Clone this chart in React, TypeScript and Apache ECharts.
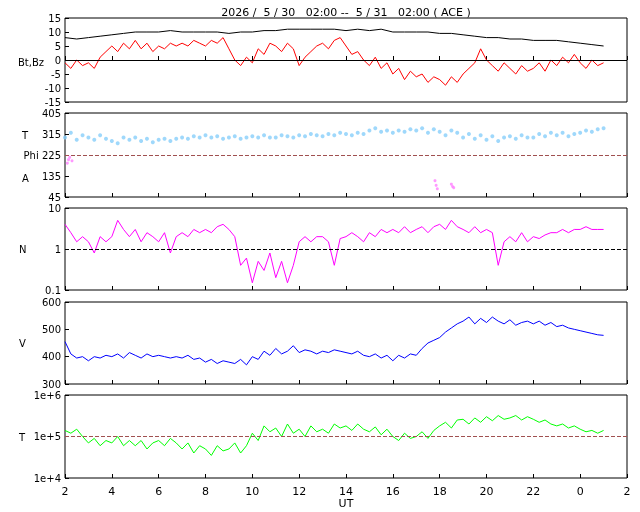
import { useEffect, useRef } from 'react';
import * as echarts from 'echarts';

// hours from 2 (05/30 02:00) to 25 (05/31 01:00)
const START = 2;
const STEP = 0.25;

const bz = [
  -1, -3, 0, -2, -1, -3, 1, 3, 5, 3, 6, 4, 7, 4, 6, 3, 5, 4, 6, 5, 6, 5, 7, 6,
  5, 7, 6, 8, 4, 0, -2, 1, -1, 4, 2, 6, 5, 3, 6, 4, -2, 1, 3, 5, 6, 4, 7, 8,
  5, 2, 3, 0, -2, 1, -3, -1, -5, -3, -7, -4, -6, -5, -8, -6, -7, -9, -6, -8,
  -5, -3, -1, 4, 0, -2, -4, -1, -3, -5, -2, -4, -3, -1, -4, 0, -2, 1, -1, 2,
  -1, -3, 0, -2, -1,
];
const bt = [
  8, 7.5, 8, 8.5, 9, 9.5, 10, 10, 10, 10.5, 10, 10, 10, 10, 9.5, 10, 10, 10.5,
  10.5, 11, 11, 11, 11, 11, 10.5, 11, 10.5, 11, 10, 10, 10, 10, 9.5, 9.5, 9,
  8.5, 8, 8, 7.5, 7.5, 7, 7, 7, 6.5, 6, 5.5, 5,
];
const temp = [
  300, 320, 290, 310, 300, 290, 310, 295, 285, 275, 300, 290, 300, 285, 295, 280,
  290, 295, 285, 295, 300, 295, 305, 300, 310, 300, 305, 295, 300, 305, 295, 300,
  305, 300, 310, 300, 300, 310, 305, 300, 310, 305, 315, 310, 305, 315, 310, 320,
  315, 310, 320, 315, 330, 340, 325, 330, 320, 330, 325, 335, 330, 340, 320, 335,
  325, 310, 330, 320, 300, 315, 295, 310, 290, 305, 285, 300, 305, 295, 310, 300,
  300, 315, 305, 320, 310, 320, 305, 315, 320, 330, 325, 335, 340,
];
const phi = [
  [2.1, 190], [2.15, 205], [2.2, 215], [2.3, 200], [17.8, 115], [17.85, 95],
  [17.9, 80], [18.5, 100], [18.55, 90], [18.6, 85],
];
const dens = [
  4, 2.5, 1.5, 2, 1.5, 0.8, 2, 1.5, 2, 5, 3, 2, 3, 1.5, 2.5, 2, 1.5, 2.5, 0.8, 2,
  2.5, 2, 3, 2.5, 3, 2.5, 3.5, 4, 3, 2, 0.4, 0.6, 0.15, 0.5, 0.3, 0.8, 0.2, 0.5,
  0.15, 0.4, 1.5, 2, 1.5, 2, 2, 1.5, 0.4, 1.8, 2, 2.5, 2, 1.5, 2.5, 2, 3, 2.5,
  3, 2.5, 3.5, 2.5, 3, 3.5, 2.5, 3.5, 4, 3, 5, 3.5, 3, 2.5, 3.5, 2.5, 3, 2.5,
  0.4, 1.5, 2, 1.5, 2.5, 1.5, 2, 1.8, 2.2, 2.5, 2.5, 3, 2.5, 3, 3, 3.5, 3, 3, 3,
];
const speed = [
  455, 410, 395, 400, 385, 400, 395, 405, 400, 410, 395, 415, 405, 395, 410, 400,
  405, 400, 395, 400, 395, 405, 390, 395, 380, 390, 375, 385, 380, 375, 390, 370,
  400, 390, 420, 405, 430, 410, 420, 440, 415, 425, 420, 410, 420, 415, 425, 420,
  415, 410, 420, 405, 400, 410, 395, 405, 385, 405, 395, 410, 405, 430, 450, 460,
  470, 490, 505, 520, 530, 545, 520, 540, 525, 545, 530, 520, 535, 515, 525, 530,
  520, 530, 515, 525, 510, 515, 505, 500, 495, 490, 485, 480, 478,
];
const tempK = [
  1.4e5, 1.2e5, 1.5e5, 1e5, 7e4, 9e4, 6e4, 8e4, 7e4, 1e5, 6e4, 8e4, 6e4, 8e4,
  5e4, 7e4, 8e4, 6e4, 9e4, 7e4, 5e4, 7e4, 4e4, 6e4, 5e4, 3.5e4, 6e4, 4.5e4,
  5e4, 7e4, 4e4, 6e4, 1.2e5, 8e4, 1.8e5, 1.3e5, 1.6e5, 1e5, 2e5, 1.2e5, 1.5e5,
  1e5, 1.8e5, 1.3e5, 1.5e5, 1.2e5, 2e5, 1.6e5, 1.8e5, 1.4e5, 2e5, 1.5e5, 1.3e5,
  1.7e5, 1.1e5, 1.5e5, 1e5, 8e4, 1.2e5, 9e4, 1e5, 1.3e5, 9e4, 1.4e5, 1.8e5,
  2.2e5, 1.6e5, 2.5e5, 2.6e5, 2e5, 2.8e5, 2.2e5, 3e5, 2.4e5, 3.2e5, 2.6e5,
  2.8e5, 3.2e5, 2.5e5, 3e5, 2.6e5, 2.2e5, 2.5e5, 2e5, 1.8e5, 2e5, 1.6e5, 1.8e5,
  1.5e5, 1.3e5, 1.4e5, 1.2e5, 1.4e5,
];

const withTime = (vals: number[], step: number) =>
  vals.map((v, i) => [START + i * step, v]);

const FONT = 'DejaVu Sans';
const tops = [18, 113, 208, 302, 395];
const heights = [84, 84, 82, 82, 83];

export default function App() {
  const ref = useRef<HTMLDivElement>(null);

  useEffect(() => {
    if (!ref.current) return;
    const chart = echarts.init(ref.current, undefined, { renderer: 'svg' });

    const grid = tops.map((top, i) => ({
      left: 65, width: 562, top, height: heights[i],
      show: true, borderColor: '#000', borderWidth: 1,
    }));
    const xAxis = tops.map((_, i) => ({
      type: 'value' as const, gridIndex: i, min: 2, max: 26, interval: 2,
      axisLine: { show: false },
      axisTick: { show: true, inside: true, length: 4, lineStyle: { color: '#000' } },
      splitLine: { show: false },
      axisLabel: {
        show: i === 4, color: '#000', fontFamily: FONT, fontSize: 11,
        formatter: (v: number) => String(v % 24),
      },
      name: i === 4 ? 'UT' : '', nameLocation: 'middle' as const, nameGap: 20,
      nameTextStyle: { color: '#000', fontFamily: FONT, fontSize: 11 },
    }));
    const lab = { color: '#000', fontFamily: FONT, fontSize: 10, margin: 4 };
    const tick = { show: true, inside: true, length: 4, lineStyle: { color: '#000' } };
    const yAxis = [
      { type: 'value', gridIndex: 0, min: -15, max: 15, interval: 5, axisLabel: lab },
      {
        type: 'value', gridIndex: 1, min: 45, max: 405, interval: 90,
        axisLabel: { ...lab, formatter: (v: number) => (v === 225 ? 'Phi 225' : String(v)) },
      },
      { type: 'log', gridIndex: 2, min: 0.1, max: 10, logBase: 10, axisLabel: lab },
      { type: 'value', gridIndex: 3, min: 300, max: 600, interval: 100, axisLabel: lab },
      {
        type: 'log', gridIndex: 4, min: 1e4, max: 1e6, logBase: 10,
        axisLabel: { ...lab, formatter: (v: number) => '1e+' + Math.round(Math.log10(v)) },
      },
    ].map(a => ({
      ...a, axisLine: { show: false }, axisTick: tick, splitLine: { show: false },
      minorTick: { show: false },
    }));

    const line = (name: string, idx: number, data: number[][], color: string) => ({
      name, type: 'line' as const, xAxisIndex: idx, yAxisIndex: idx, data,
      showSymbol: false,
      lineStyle: { color, width: 1 }, itemStyle: { color },
    });
    const mark = (y: number, color: string, type: 'solid' | 'dashed') => ({
      silent: true, symbol: 'none', label: { show: false },
      lineStyle: { color, type, width: 1 }, data: [{ yAxis: y }],
    });

    const label = (text: string, x: number, y: number) => ({
      type: 'text', x, y,
      style: { text, fill: '#000', font: `10px "${FONT}"`, textVerticalAlign: 'middle' },
    });

    chart.setOption({
      animation: false,
      grid, xAxis, yAxis,
      graphic: [
        {
          type: 'text', x: 346, y: 12,
          style: {
            text: '2026 /  5 / 30   02:00 --  5 / 31   02:00 ( ACE )',
            fill: '#000', font: `11px "${FONT}"`, textAlign: 'center', textVerticalAlign: 'middle',
          },
        },
        label('Bt,Bz', 18, 62),
        label('T', 22, 135),
        label('A', 22, 178),
        label('N', 19, 249),
        label('V', 19, 343),
        label('T', 19, 437),
      ],
      series: [
        line('Bt', 0, withTime(bt, 0.5), '#000'),
        { ...line('Bz', 0, withTime(bz, STEP), '#ff0000'), markLine: mark(0, '#000', 'solid') },
        {
          name: 'T', type: 'scatter', xAxisIndex: 1, yAxisIndex: 1,
          data: withTime(temp, STEP), symbolSize: 4, itemStyle: { color: '#87cefa' },
          markLine: mark(225, '#a05050', 'dashed'),
        },
        {
          name: 'Phi', type: 'scatter', xAxisIndex: 1, yAxisIndex: 1,
          data: phi, symbolSize: 3, itemStyle: { color: '#ff80ff' },
        },
        { ...line('N', 2, withTime(dens, STEP), '#ff00ff'), markLine: mark(1, '#000', 'dashed') },
        line('V', 3, withTime(speed, STEP), '#0000ff'),
        { ...line('Tp', 4, withTime(tempK, STEP), '#00ff00'), markLine: mark(1e5, '#a05050', 'dashed') },
      ],
    });

    return () => chart.dispose();
  }, []);

  return <div ref={ref} style={{ position: 'fixed', left: 0, top: 0, width: 640, height: 512 }} />;
}
